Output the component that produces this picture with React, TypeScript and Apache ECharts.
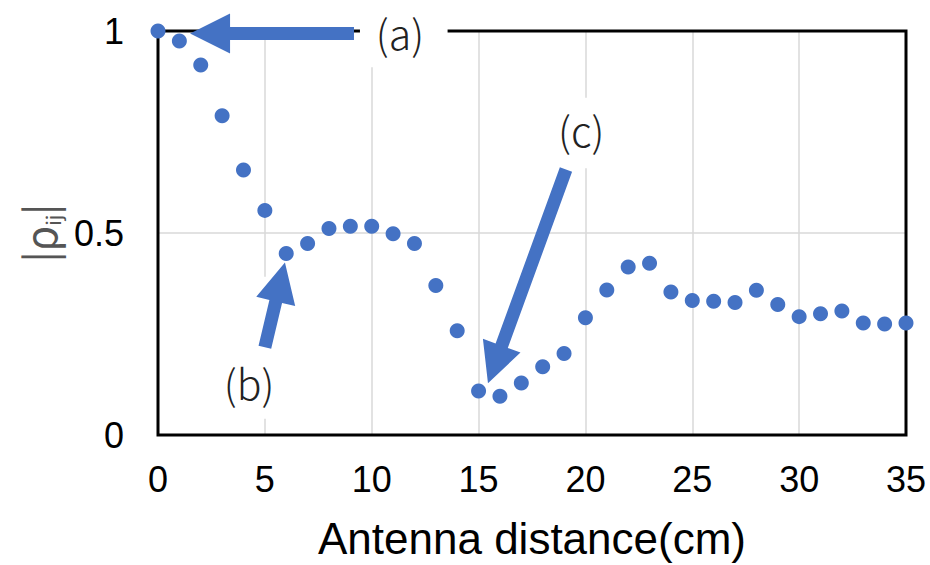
import React, { useEffect, useRef } from "react";
import * as echarts from "echarts";

const distances = [0, 1, 2, 3, 4, 5, 6, 7, 8, 9, 10, 11, 12, 13, 14, 15, 16, 17, 18, 19, 20, 21, 22, 23, 24, 25, 26, 27, 28, 29, 30, 31, 32, 33, 34, 35];
const rho = [1.0, 0.975, 0.916, 0.79, 0.656, 0.556, 0.449, 0.474, 0.511, 0.517, 0.517, 0.498, 0.474, 0.37, 0.258, 0.109, 0.096, 0.129, 0.169, 0.202, 0.29, 0.359, 0.416, 0.425, 0.354, 0.333, 0.331, 0.328, 0.358, 0.323, 0.293, 0.3, 0.307, 0.277, 0.275, 0.277];

const xMin = 0;
const xMax = 35;
const xInterval = 5;
const yMin = 0;
const yMax = 1;
const yInterval = 0.5;

const xTitle = "Antenna distance(cm)";

// annotation arrows in data coordinates: [tailX, tailY, tipX, tipY]
const arrowA = [9.17, 0.994, 1.5, 0.994];
const arrowB = [5.0, 0.217, 5.94, 0.427];
const arrowC = [19.09, 0.657, 15.44, 0.128];
// annotation labels in data coordinates
const labelNames = ["(a)", "(b)", "(c)"];
const labelX = [11.32, 4.26, 19.8];
const labelY = [0.998, 0.131, 0.758];
// white label boxes (data coords): [x0, y0, x1, y1]
const boxA = [9.45, 1.1, 13.55, 0.91];
const boxB = [2.67, 0.392, 5.85, 0.04];
const boxC = [18.1, 0.835, 21.5, 0.66];

const BLUE = "#4472C4";

function arrowPoints(p0: number[], p1: number[]) {
  const w = 6.5, L = 40, H = 20;
  const dx = p1[0] - p0[0], dy = p1[1] - p0[1];
  const len = Math.hypot(dx, dy);
  const ux = dx / len, uy = dy / len;
  const nx = -uy, ny = ux;
  const bx = p1[0] - ux * L, by = p1[1] - uy * L;
  return [
    [p0[0] + nx * w, p0[1] + ny * w],
    [bx + nx * w, by + ny * w],
    [bx + nx * H, by + ny * H],
    [p1[0], p1[1]],
    [bx - nx * H, by - ny * H],
    [bx - nx * w, by - ny * w],
    [p0[0] - nx * w, p0[1] - ny * w],
  ];
}

export default function App() {
  const ref = useRef<HTMLDivElement>(null);
  useEffect(() => {
    if (!ref.current) return;
    const chart = echarts.init(ref.current, null, { renderer: "svg" });
    const tickFont = { fontFamily: "Liberation Sans, Arial, sans-serif", fontSize: 36, color: "#000" };
    chart.setOption({
      animation: false,
      backgroundColor: "#fff",
      grid: {
        left: 158,
        right: 24,
        top: 31,
        bottom: 129,
        show: false,
        containLabel: false,
      },
      xAxis: {
        type: "value",
        min: xMin,
        max: xMax,
        interval: xInterval,
        name: xTitle,
        nameLocation: "middle",
        nameGap: 81,
        nameTextStyle: { fontFamily: "Liberation Sans, Arial, sans-serif", fontSize: 44, color: "#000" },
        axisLine: { show: false },
        axisTick: { show: false },
        axisLabel: { ...tickFont, margin: 26 },
        splitLine: { show: true, lineStyle: { color: "#d9d9d9", width: 1.5 } },
      },
      yAxis: {
        type: "value",
        min: yMin,
        max: yMax,
        interval: yInterval,
        name: "{b||}{r|ρ}{s|ij}{b||}",
        nameLocation: "middle",
        nameRotate: 90,
        nameGap: 96,
        nameTextStyle: {
          color: "#555",
          fontFamily: "Noto Sans CJK JP, sans-serif",
          rich: {
            b: { fontSize: 40, color: "#555", fontFamily: "Noto Sans CJK JP, sans-serif", lineHeight: 48 },
            r: { fontSize: 42, color: "#555", fontFamily: "Noto Sans CJK JP, sans-serif", lineHeight: 48 },
            s: { fontSize: 20, color: "#555", fontFamily: "Noto Sans CJK JP, sans-serif", verticalAlign: "bottom", lineHeight: 20 },
          },
        },
        axisLine: { show: false },
        axisTick: { show: false },
        axisLabel: { ...tickFont, margin: 34 },
        splitLine: { show: true, lineStyle: { color: "#d9d9d9", width: 1.5 } },
      },
      series: [
        {
          type: "scatter",
          symbol: "circle",
          symbolSize: 15,
          itemStyle: { color: BLUE, opacity: 1 },
          data: distances.map((d, i) => [d, rho[i]]),
          clip: false,
          z: 3,
        },
      ],
    });

    const px = (x: number, y: number) => chart.convertToPixel({ gridIndex: 0 }, [x, y]) as number[];
    const rectOf = (b: number[]) => {
      const a = px(b[0], b[1]);
      const c = px(b[2], b[3]);
      return {
        type: "rect",
        shape: { x: Math.min(a[0], c[0]), y: Math.min(a[1], c[1]), width: Math.abs(c[0] - a[0]), height: Math.abs(c[1] - a[1]) },
        style: { fill: "#fff" },
        z: 10,
      };
    };
    const arrowOf = (a: number[]) => ({
      type: "polygon",
      shape: { points: arrowPoints(px(a[0], a[1]), px(a[2], a[3])) },
      style: { fill: BLUE },
      z: 11,
    });
    const labels = labelNames.map((t, i) => {
      const p = px(labelX[i], labelY[i]);
      return {
        type: "text",
        x: p[0],
        y: p[1],
        z: 12,
        style: {
          text: t,
          font: '300 41px "Noto Sans CJK JP", sans-serif',
          fill: "#222",
          textAlign: "center",
          textVerticalAlign: "middle",
          align: "center",
          verticalAlign: "middle",
        },
      };
    });
    const tl = px(xMin, yMax);
    const br = px(xMax, yMin);
    const border = {
      type: "rect",
      shape: { x: tl[0], y: tl[1], width: br[0] - tl[0], height: br[1] - tl[1] },
      style: { fill: "none", stroke: "#000", lineWidth: 3 },
      z: 1,
    };
    chart.setOption({
      graphic: [border, rectOf(boxA), rectOf(boxB), rectOf(boxC), arrowOf(arrowA), arrowOf(arrowB), arrowOf(arrowC), ...labels],
    });
    return () => chart.dispose();
  }, []);
  return <div ref={ref} style={{ position: "fixed", left: 0, top: 0, width: 930, height: 565 }} />;
}
